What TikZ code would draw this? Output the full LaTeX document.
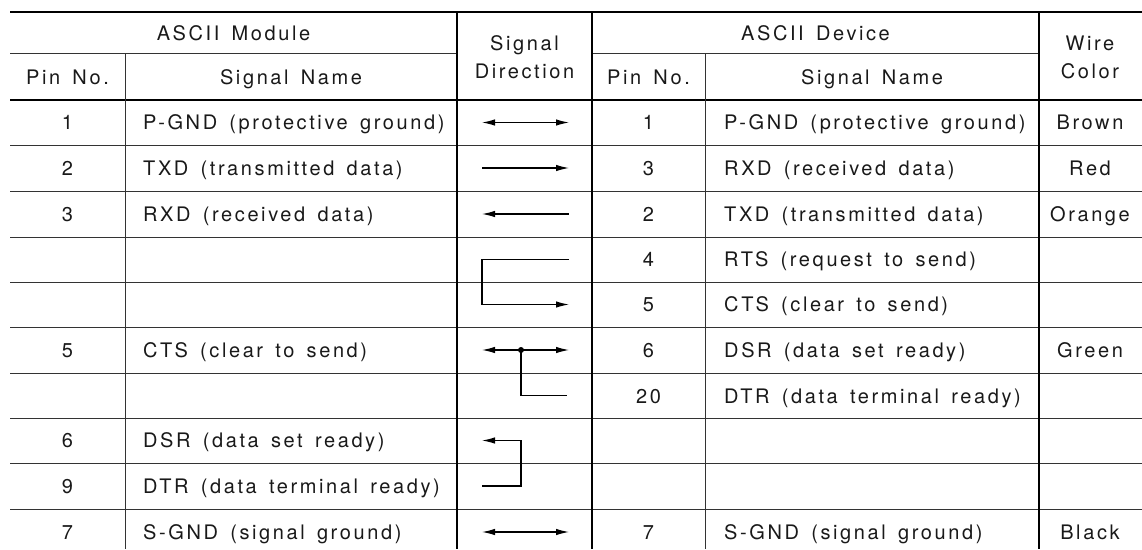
\documentclass[tikz,border=0pt]{standalone}
\usepackage{fontspec}
\setmainfont{TeX Gyre Heros}[LetterSpace=13,WordSpace=1.5]
\usetikzlibrary{arrows.meta}
\tikzset{hd/.tip={Latex[length=13pt,width=6.5pt]}}

\begin{document}
\begin{tikzpicture}[x=1pt,y=-1pt,
  rule/.style={line width=1pt, draw=black!80},
  heavy/.style={line width=2pt, draw=black},
  cell/.style={font=\fontsize{20}{28}\selectfont, inner sep=0pt, text=black!90},
  ctext/.style={cell, anchor=base},
  ltext/.style={cell, anchor=base west},
  sig/.style={line width=1.2pt}
]
\useasboundingbox (0,0) rectangle (1142,549);
\clip (0,0) rectangle (1142,549);

% ---- table rules ----
\draw[heavy] (10,12) -- (1142,12);
\draw[rule] (10,53) -- (457,53) (592,53) -- (1039,53);
\draw[line width=1.5pt] (10,100) -- (1142,100);
\foreach \y in {145,191,237,282,327,373,418,463,509}
  \draw[rule] (10,\y) -- (1142,\y);
\draw[heavy] (457,12) -- (457,549) (592,12) -- (592,549);
\draw[line width=1.3pt] (1039,12) -- (1039,549);
\draw[rule] (125,53) -- (125,549) (705,53) -- (705,549);

% ---- header ----
\node[ctext] (hmod) at (233.5,40) {ASCII Module};
\node[ctext] (hdev) at (815.5,40) {ASCII Device};
\node[cell, align=center] (hdir) at (524.5,57) {Signal\\Direction};
\node[cell, align=center] (hwire) at (1090,57) {Wire\\Color};
\node[ctext] (hmpin) at (67.5,84) {Pin No.};
\node[ctext] (hmname) at (291,84) {Signal Name};
\node[ctext] (hdpin) at (648.5,84) {Pin No.};
\node[ctext] (hdname) at (872,84) {Signal Name};

% ---- module side ----
\node[ctext] (mp1) at (67.5,129.5) {1};
\node[ltext] (mn1) at (143,129.5) {P-GND (protective ground)};
\node[ctext] (mp2) at (67.5,175) {2};
\node[ltext] (mn2) at (143,175) {TXD (transmitted data)};
\node[ctext] (mp3) at (67.5,221) {3};
\node[ltext] (mn3) at (143,221) {RXD (received data)};
\node[ctext] (mp5) at (67.5,357) {5};
\node[ltext] (mn5) at (143,357) {CTS (clear to send)};
\node[ctext] (mp6) at (67.5,447.5) {6};
\node[ltext] (mn6) at (143,447.5) {DSR (data set ready)};
\node[ctext] (mp9) at (67.5,493) {9};
\node[ltext] (mn9) at (143,493) {DTR (data terminal ready)};
\node[ctext] (mp7) at (67.5,539) {7};
\node[ltext] (mn7) at (143,539) {S-GND (signal ground)};

% ---- device side ----
\node[ctext] (dp1) at (648.5,129.5) {1};
\node[ltext] (dn1) at (724,129.5) {P-GND (protective ground)};
\node[ctext] (dp3) at (648.5,175) {3};
\node[ltext] (dn3) at (724,175) {RXD (received data)};
\node[ctext] (dp2) at (648.5,221) {2};
\node[ltext] (dn2) at (724,221) {TXD (transmitted data)};
\node[ctext] (dp4) at (648.5,266.5) {4};
\node[ltext] (dn4) at (724,266.5) {RTS (request to send)};
\node[ctext] (dp5) at (648.5,311.5) {5};
\node[ltext] (dn5) at (724,311.5) {CTS (clear to send)};
\node[ctext] (dp6) at (648.5,357) {6};
\node[ltext] (dn6) at (724,357) {DSR (data set ready)};
\node[ctext] (dp20) at (648.5,403) {20};
\node[ltext] (dn20) at (724,403) {DTR (data terminal ready)};
\node[ctext] (dp7) at (648.5,539) {7};
\node[ltext] (dn7) at (724,539) {S-GND (signal ground)};

% ---- wire colours ----
\node[ctext] (w1) at (1090,129.5) {Brown};
\node[ctext] (w2) at (1090,175) {Red};
\node[ctext] (w3) at (1090,221) {Orange};
\node[ctext] (w6) at (1090,357) {Green};
\node[ctext] (w7) at (1090,539) {Black};

% ---- signal direction column ----
\coordinate (a1l) at (482,122.5); \coordinate (a1r) at (569,122.5);
\coordinate (a2l) at (482,168);   \coordinate (a2r) at (569,168);
\coordinate (a3l) at (482,214);   \coordinate (a3r) at (569,214);
\coordinate (a4l) at (482,259.5); \coordinate (a4r) at (569,259.5);
\coordinate (a5l) at (482,304.5); \coordinate (a5r) at (569,304.5);
\coordinate (a6l) at (482,350);   \coordinate (a6r) at (569,350);
\coordinate (a7m) at (521,395.5); \coordinate (a7r) at (567,395.5);
\coordinate (a8l) at (482,440.5); \coordinate (a8m) at (521,440.5);
\coordinate (a9l) at (482,486);   \coordinate (a9m) at (521,486);
\coordinate (a10l) at (482,532);  \coordinate (a10r) at (569,532);
\node[circle, fill, inner sep=0pt, minimum size=6pt] (junc) at (521,350) {};

\draw[sig, hd-hd] (a1l) -- (a1r);
\draw[sig, -hd] (a2l) -- (a2r);
\draw[sig, hd-] (a3l) -- (a3r);
\draw[sig, -hd] (a4r) -- (a4l) -- (a5l) -- (a5r);
\draw[sig, hd-hd] (a6l) -- (a6r);
\draw[sig] (junc.center) -- (a7m) -- (a7r);
\draw[sig, hd-] (a8l) -- (a8m) -- (a9m) -- (a9l);
\draw[sig, hd-hd] (a10l) -- (a10r);
\end{tikzpicture}
\end{document}
